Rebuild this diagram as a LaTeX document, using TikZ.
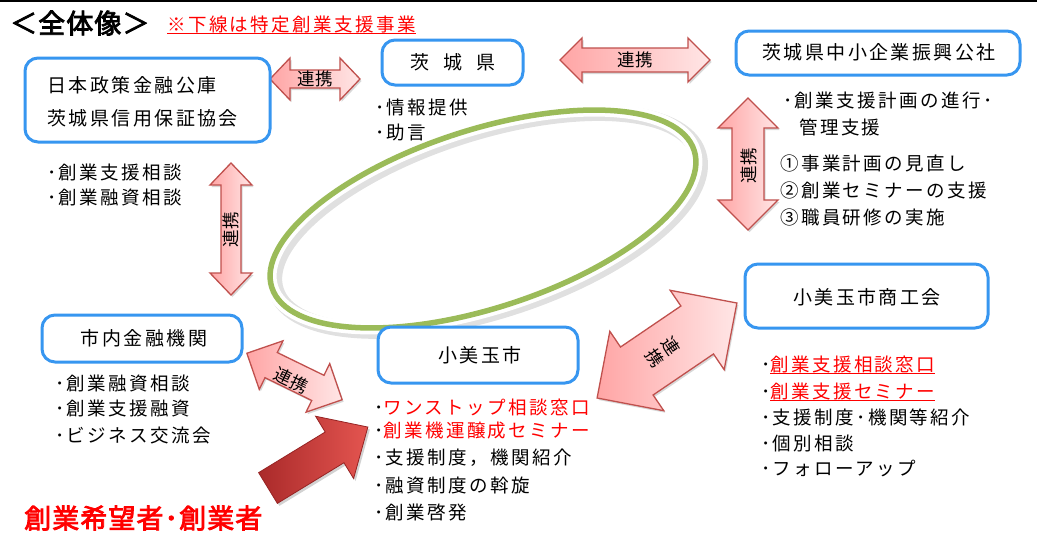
\documentclass[tikz,border=0pt]{standalone}
\usepackage{fontspec}
\setmainfont{Noto Sans CJK JP}
\newfontfamily\jp{Noto Sans CJK JP}[LetterSpace=13]
\newfontfamily\jpl{Noto Sans CJK JP}[LetterSpace=4]
\newfontfamily\jpb{Noto Sans CJK JP}[LetterSpace=4,FakeBold=3]
\usetikzlibrary{shadows}
\definecolor{boxblue}{RGB}{55,150,240}
\definecolor{arrowedge}{RGB}{192,80,77}
\definecolor{pinkL}{RGB}{255,165,165}
\definecolor{pinkR}{RGB}{255,230,230}
\definecolor{ellgreen}{RGB}{155,187,89}
\definecolor{dred}{RGB}{150,35,35}
\definecolor{lred}{RGB}{170,42,42}
\definecolor{mred}{RGB}{228,85,80}
\definecolor{txtred}{RGB}{255,0,0}
\newcommand\ulred[1]{\setbox0=\hbox{#1}\rlap{\rule[-2.6pt]{\wd0}{1.3pt}}\box0}
\newcommand\dbla[7]{\begin{scope}[shift={(#1,#2)},rotate=#3]
\path[arr] (-#4,0) -- (-#4+#7,#6) -- (-#4+#7,#5) -- (#4-#7,#5) -- (#4-#7,#6) -- (#4,0)
  -- (#4-#7,-#6) -- (#4-#7,-#5) -- (-#4+#7,-#5) -- (-#4+#7,-#6) -- cycle;
\end{scope}}
\newcommand\sgla[7]{\begin{scope}[shift={(#1,#2)},rotate=#3]
\path[bigarr] (0,-#5) -- (#4-#7,-#5) -- (#4-#7,-#6) -- (#4,0) -- (#4-#7,#6) -- (#4-#7,#5) -- (0,#5) -- cycle;
\end{scope}}
\begin{document}
\begin{tikzpicture}[x=1pt,y=-1pt,
  box/.style={draw=boxblue, line width=3pt, rounded corners=13pt, fill=white},
  arr/.style={draw=arrowedge, line width=1.3pt, left color=pinkL, right color=pinkR,
    drop shadow={opacity=0.3, shadow xshift=1.5pt, shadow yshift=-2pt}},
  bigarr/.style={draw=dred, line width=0.8pt, left color=lred, right color=mred,
    drop shadow={opacity=0.35, shadow xshift=2pt, shadow yshift=-2.5pt}},
  title/.style={font=\jp\fontsize{19}{22}\selectfont, inner sep=0pt},
  item/.style={font=\jp\fontsize{18.5}{22}\selectfont, inner sep=0pt, anchor=west},
  lbl/.style={font=\jpl\fontsize{17.5}{20}\selectfont, inner sep=0pt, align=center},
]
\useasboundingbox (0,0) rectangle (1037,542);
\fill[white] (0,0) rectangle (1037,542);
\fill[black] (0,0) rectangle (1037,1.5);

% central ellipse
\begin{scope}[rotate around={18:(483,219)}]
  \draw[black, opacity=0.12, line width=16pt] (486,223) ellipse [x radius=222pt, y radius=89pt];
  \draw[white, line width=13pt] (483,219) ellipse [x radius=222pt, y radius=89pt];
  \draw[ellgreen, line width=5.5pt] (483,219) ellipse [x radius=222pt, y radius=89pt];
\end{scope}

% block arrows
\dbla{315}{79}{0}{45}{9}{21}{20}
\dbla{635}{60}{0}{75}{12}{22}{22}
\dbla{748}{164}{90}{66}{16}{30}{30}
\dbla{231}{229}{90}{66}{10}{21}{22}
\dbla{294.5}{376.5}{-26}{53}{14}{27}{27}
\dbla{667}{350.5}{34.2}{84.5}{29}{48}{48}
\sgla{268}{488}{31.4}{117}{18}{36.5}{39}

\node[lbl] (t1) at (315,79) {連携};
\node[lbl] (t2) at (635,60) {連携};
\node[lbl, rotate=90] (t3) at (749,166) {連携};
\node[lbl, rotate=90] (t4) at (231,230) {連携};
\node[lbl, rotate=-26] (t5) at (291,380) {連携};
\node[lbl, rotate=-56] (t6) at (663,352) {連\\携};

% boxes
\draw[box] (25,58) rectangle (270,142);
\draw[box] (382,40) rectangle (523,85);
\draw[box] (736,31) rectangle (1020,75);
\draw[box] (42,315) rectangle (242,362);
\draw[box] (378,327) rectangle (578,383);
\draw[box] (745,264) rectangle (988,328);

% box titles
\node[title, anchor=west] (b1a) at (47,85) {日本政策金融公庫};
\node[title, anchor=west] (b1b) at (47,118) {茨城県信用保証協会};
\node[title] (b2) at (453,62) {茨\hspace{14pt}城\hspace{14pt}県};
\node[title] (b3) at (879,52) {茨城県中小企業振興公社};
\node[title] (b4) at (144,338) {市内金融機関};
\node[title] (b5) at (480,355) {小美玉市};
\node[title] (b6) at (867,297) {小美玉市商工会};

% heading
\node[font=\jpb\fontsize{27}{29}\selectfont, inner sep=0pt, anchor=west] (hd) at (10,23) {＜全体像＞};
\node[font=\jp\fontsize{18.5}{22}\selectfont, text=txtred, inner sep=0pt, anchor=west] (note) at (167,25) {\ulred{※下線は特定創業支援事業}};

% lists
\node[item] (l1a) at (47,172) {･創業支援相談};
\node[item] (l1b) at (47,197) {･創業融資相談};

\node[item] (l2a) at (375,107) {･情報提供};
\node[item] (l2b) at (375,132) {･助言};

\node[item] (l3a) at (783,100) {･創業支援計画の進行･};
\node[item] (l3b) at (799,127) {管理支援};
\node[item] (l3c) at (780,163) {①事業計画の見直し};
\node[item] (l3d) at (780,190) {②創業セミナーの支援};
\node[item] (l3e) at (780,217) {③職員研修の実施};

\node[item] (l4a) at (55,383) {･創業融資相談};
\node[item] (l4b) at (55,408) {･創業支援融資};
\node[item] (l4c) at (55,435) {･ビジネス交流会};

\node[item] (l5a) at (374,407) {･\textcolor{txtred}{ワンストップ相談窓口}};
\node[item] (l5b) at (374,431) {･\textcolor{txtred}{創業機運醸成セミナー}};
\node[item] (l5c) at (374,458) {･支援制度，機関紹介};
\node[item] (l5d) at (374,485) {･融資制度の斡旋};
\node[item] (l5e) at (374,512) {･創業啓発};

\node[item] (l6a) at (761,365) {･\textcolor{txtred}{\ulred{創業支援相談窓口}}};
\node[item] (l6b) at (761,392) {･\textcolor{txtred}{\ulred{創業支援セミナー}}};
\node[item] (l6c) at (761,417) {･支援制度･機関等紹介};
\node[item] (l6d) at (761,443) {･個別相談};
\node[item] (l6e) at (761,468) {･フォローアップ};

\node[font=\jpb\fontsize{27}{30}\selectfont, text=txtred, inner sep=0pt, anchor=west] (who) at (24,518) {創業希望者･創業者};
\end{tikzpicture}
\end{document}
